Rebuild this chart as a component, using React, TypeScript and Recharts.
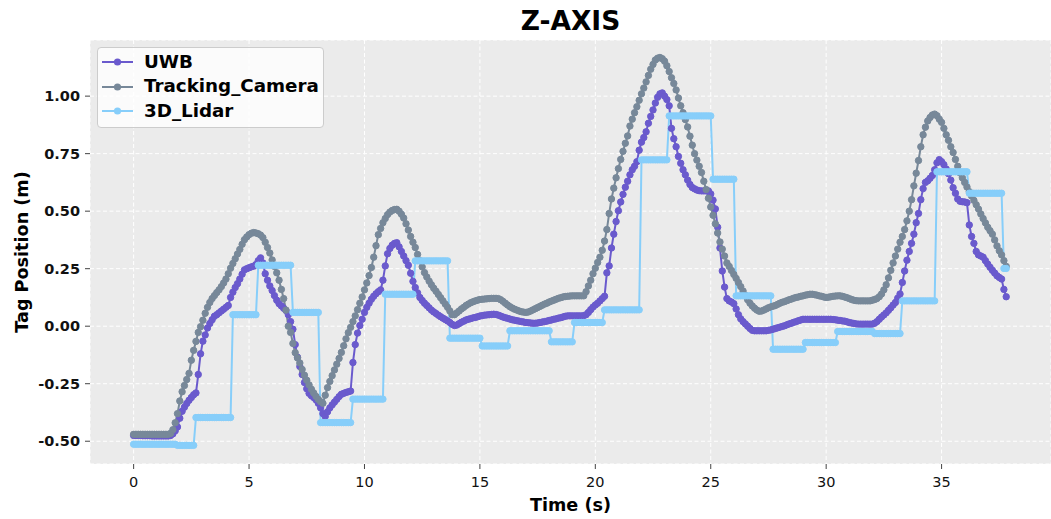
import { LineChart, Line, XAxis, YAxis, CartesianGrid } from "recharts";

const FONT = "'DejaVu Sans', sans-serif";

// samples are logged every 0.1 s, starting at t = 0 (one row = 2 s)
const SAMPLE_PERIOD = 0.1;

const uwb = [
  -0.475, -0.475, -0.475, -0.475, -0.476, -0.476, -0.476, -0.476, -0.477, -0.477, -0.477, -0.477, -0.477, -0.477, -0.477, -0.477, -0.475, -0.468, -0.455, -0.438,
  -0.400, -0.370, -0.352, -0.336, -0.322, -0.310, -0.298, -0.290, -0.210, -0.120, -0.065, -0.038, -0.008, 0.012, 0.028, 0.043, 0.050, 0.058, 0.066, 0.074,
  0.082, 0.090, 0.125, 0.148, 0.168, 0.185, 0.205, 0.226, 0.245, 0.250, 0.254, 0.258, 0.261, 0.268, 0.285, 0.297, 0.275, 0.228, 0.200, 0.175,
  0.155, 0.133, 0.113, 0.098, 0.088, 0.078, 0.068, 0.050, 0.020, -0.013, -0.080, -0.135, -0.175, -0.210, -0.245, -0.272, -0.292, -0.302, -0.310, -0.320,
  -0.335, -0.355, -0.380, -0.392, -0.372, -0.355, -0.342, -0.330, -0.318, -0.306, -0.296, -0.292, -0.288, -0.285, -0.282, -0.158, -0.080, -0.030, 0.003, 0.030,
  0.060, 0.082, 0.100, 0.117, 0.130, 0.141, 0.150, 0.158, 0.200, 0.262, 0.315, 0.338, 0.352, 0.360, 0.363, 0.345, 0.325, 0.305, 0.285, 0.265,
  0.230, 0.195, 0.168, 0.145, 0.125, 0.112, 0.100, 0.090, 0.080, 0.070, 0.062, 0.055, 0.048, 0.041, 0.035, 0.029, 0.023, 0.016, 0.008, 0.003,
  0.005, 0.011, 0.017, 0.022, 0.027, 0.030, 0.033, 0.036, 0.038, 0.041, 0.044, 0.046, 0.048, 0.049, 0.050, 0.051, 0.052, 0.051, 0.048, 0.044,
  0.040, 0.037, 0.034, 0.031, 0.028, 0.026, 0.024, 0.022, 0.020, 0.018, 0.016, 0.015, 0.014, 0.013, 0.013, 0.014, 0.016, 0.018, 0.020, 0.022,
  0.025, 0.027, 0.030, 0.032, 0.035, 0.037, 0.040, 0.043, 0.045, 0.045, 0.045, 0.045, 0.045, 0.045, 0.045, 0.046, 0.050, 0.060, 0.072, 0.083,
  0.092, 0.100, 0.110, 0.120, 0.130, 0.232, 0.262, 0.340, 0.400, 0.455, 0.502, 0.540, 0.573, 0.604, 0.630, 0.658, 0.680, 0.695, 0.715, 0.765,
  0.800, 0.820, 0.845, 0.882, 0.912, 0.940, 0.970, 0.995, 1.010, 1.014, 1.000, 0.985, 0.958, 0.860, 0.815, 0.780, 0.738, 0.708, 0.680, 0.658,
  0.635, 0.616, 0.603, 0.597, 0.592, 0.589, 0.588, 0.588, 0.588, 0.588, 0.575, 0.548, 0.510, 0.430, 0.340, 0.240, 0.170, 0.120, 0.110, 0.105,
  0.098, 0.075, 0.050, 0.032, 0.020, 0.010, 0.000, -0.010, -0.018, -0.020, -0.020, -0.020, -0.020, -0.020, -0.020, -0.018, -0.016, -0.013, -0.010, -0.007,
  -0.004, -0.001, 0.002, 0.006, 0.010, 0.013, 0.017, 0.020, 0.024, 0.027, 0.030, 0.030, 0.030, 0.030, 0.030, 0.030, 0.030, 0.030, 0.030, 0.030,
  0.030, 0.030, 0.030, 0.029, 0.028, 0.026, 0.025, 0.023, 0.022, 0.019, 0.016, 0.014, 0.012, 0.010, 0.009, 0.009, 0.009, 0.009, 0.009, 0.009,
  0.009, 0.013, 0.020, 0.030, 0.040, 0.049, 0.058, 0.069, 0.080, 0.092, 0.103, 0.122, 0.140, 0.190, 0.240, 0.287, 0.325, 0.360, 0.400, 0.450,
  0.490, 0.550, 0.598, 0.625, 0.632, 0.643, 0.655, 0.680, 0.710, 0.724, 0.715, 0.702, 0.683, 0.663, 0.635, 0.602, 0.578, 0.553, 0.543, 0.541,
  0.540, 0.537, 0.440, 0.390, 0.360, 0.325, 0.310, 0.305, 0.300, 0.285, 0.270, 0.256, 0.243, 0.231, 0.219, 0.212, 0.205, 0.160, 0.128,
];

const trackingCamera = [
  -0.470, -0.470, -0.470, -0.470, -0.470, -0.470, -0.470, -0.470, -0.470, -0.470, -0.470, -0.470, -0.470, -0.470, -0.470, -0.470, -0.466, -0.450, -0.420, -0.380,
  -0.325, -0.285, -0.258, -0.232, -0.205, -0.148, -0.105, -0.066, -0.027, -0.002, 0.026, 0.056, 0.082, 0.103, 0.120, 0.133, 0.146, 0.158, 0.172, 0.188,
  0.205, 0.228, 0.252, 0.273, 0.293, 0.314, 0.334, 0.356, 0.376, 0.388, 0.398, 0.404, 0.407, 0.405, 0.402, 0.396, 0.385, 0.365, 0.342, 0.318,
  0.288, 0.260, 0.232, 0.200, 0.160, 0.120, 0.070, 0.000, -0.027, -0.075, -0.115, -0.138, -0.160, -0.188, -0.213, -0.235, -0.255, -0.274, -0.290, -0.305,
  -0.318, -0.328, -0.335, -0.300, -0.267, -0.240, -0.215, -0.190, -0.165, -0.140, -0.114, -0.085, -0.055, -0.028, -0.005, 0.020, 0.045, 0.072, 0.100, 0.127,
  0.158, 0.188, 0.220, 0.255, 0.300, 0.350, 0.398, 0.425, 0.450, 0.468, 0.485, 0.496, 0.503, 0.507, 0.508, 0.500, 0.487, 0.470, 0.445, 0.418,
  0.390, 0.365, 0.342, 0.312, 0.285, 0.258, 0.233, 0.214, 0.196, 0.180, 0.165, 0.152, 0.138, 0.124, 0.110, 0.096, 0.082, 0.066, 0.050, 0.050,
  0.058, 0.066, 0.075, 0.082, 0.090, 0.096, 0.102, 0.106, 0.110, 0.113, 0.116, 0.117, 0.118, 0.119, 0.120, 0.121, 0.121, 0.121, 0.120, 0.115,
  0.108, 0.100, 0.092, 0.085, 0.079, 0.074, 0.070, 0.066, 0.063, 0.061, 0.060, 0.062, 0.066, 0.071, 0.076, 0.081, 0.086, 0.091, 0.096, 0.100,
  0.105, 0.109, 0.113, 0.117, 0.121, 0.124, 0.127, 0.129, 0.130, 0.131, 0.132, 0.132, 0.132, 0.132, 0.132, 0.132, 0.150, 0.175, 0.200, 0.228,
  0.252, 0.277, 0.300, 0.330, 0.370, 0.420, 0.490, 0.553, 0.600, 0.645, 0.685, 0.725, 0.760, 0.795, 0.827, 0.870, 0.900, 0.928, 0.954, 0.982,
  1.010, 1.035, 1.062, 1.090, 1.117, 1.138, 1.157, 1.165, 1.168, 1.163, 1.152, 1.132, 1.107, 1.080, 1.055, 1.027, 0.992, 0.958, 0.928, 0.898,
  0.866, 0.826, 0.787, 0.750, 0.722, 0.695, 0.668, 0.630, 0.594, 0.556, 0.518, 0.482, 0.445, 0.405, 0.366, 0.335, 0.305, 0.275, 0.260, 0.242,
  0.225, 0.208, 0.190, 0.172, 0.153, 0.134, 0.115, 0.100, 0.088, 0.078, 0.070, 0.065, 0.066, 0.070, 0.075, 0.080, 0.084, 0.087, 0.090, 0.095,
  0.100, 0.104, 0.107, 0.111, 0.115, 0.118, 0.122, 0.125, 0.127, 0.130, 0.132, 0.135, 0.137, 0.139, 0.139, 0.137, 0.135, 0.132, 0.130, 0.127,
  0.125, 0.126, 0.128, 0.130, 0.131, 0.132, 0.132, 0.130, 0.127, 0.124, 0.120, 0.116, 0.113, 0.111, 0.110, 0.110, 0.110, 0.110, 0.110, 0.110,
  0.113, 0.116, 0.120, 0.128, 0.140, 0.158, 0.180, 0.210, 0.243, 0.275, 0.305, 0.335, 0.365, 0.390, 0.420, 0.458, 0.500, 0.550, 0.610, 0.665,
  0.720, 0.780, 0.832, 0.865, 0.892, 0.907, 0.918, 0.922, 0.915, 0.900, 0.886, 0.860, 0.832, 0.808, 0.780, 0.755, 0.725, 0.695, 0.666, 0.645,
  0.625, 0.605, 0.585, 0.566, 0.547, 0.528, 0.509, 0.488, 0.468, 0.449, 0.430, 0.415, 0.400, 0.375, 0.349, 0.328, 0.310, 0.285, 0.260,
];

const lidar3d = [
  -0.513, -0.513, -0.513, -0.513, -0.513, -0.513, -0.513, -0.513, -0.513, -0.513, -0.513, -0.513, -0.513, -0.513, -0.513, -0.513, -0.513, -0.513, -0.513, -0.518,
  -0.518, -0.518, -0.518, -0.518, -0.518, -0.518, -0.518, -0.397, -0.397, -0.397, -0.397, -0.397, -0.397, -0.397, -0.397, -0.397, -0.397, -0.397, -0.397, -0.397,
  -0.397, -0.397, -0.397, 0.050, 0.050, 0.050, 0.050, 0.050, 0.050, 0.050, 0.050, 0.050, 0.050, 0.050, 0.265, 0.265, 0.265, 0.265, 0.265, 0.265,
  0.265, 0.265, 0.265, 0.265, 0.265, 0.265, 0.265, 0.265, 0.265, 0.060, 0.060, 0.060, 0.060, 0.060, 0.060, 0.060, 0.060, 0.060, 0.060, 0.060,
  0.060, -0.419, -0.419, -0.419, -0.419, -0.419, -0.419, -0.419, -0.419, -0.419, -0.419, -0.419, -0.419, -0.419, -0.419, -0.317, -0.317, -0.317, -0.317, -0.317,
  -0.317, -0.317, -0.317, -0.317, -0.317, -0.317, -0.317, -0.317, -0.317, 0.139, 0.139, 0.139, 0.139, 0.139, 0.139, 0.139, 0.139, 0.139, 0.139, 0.139,
  0.139, 0.139, 0.284, 0.284, 0.284, 0.284, 0.284, 0.284, 0.284, 0.284, 0.284, 0.284, 0.284, 0.284, 0.284, 0.284, 0.284, -0.052, -0.052, -0.052,
  -0.052, -0.052, -0.052, -0.052, -0.052, -0.052, -0.052, -0.052, -0.052, -0.052, -0.052, -0.086, -0.086, -0.086, -0.086, -0.086, -0.086, -0.086, -0.086, -0.086,
  -0.086, -0.086, -0.086, -0.020, -0.020, -0.020, -0.020, -0.020, -0.020, -0.020, -0.020, -0.020, -0.020, -0.020, -0.020, -0.020, -0.020, -0.020, -0.020, -0.020,
  -0.020, -0.068, -0.068, -0.068, -0.068, -0.068, -0.068, -0.068, -0.068, -0.068, -0.068, 0.016, 0.016, 0.016, 0.016, 0.016, 0.016, 0.016, 0.016, 0.016,
  0.016, 0.016, 0.016, 0.016, 0.071, 0.071, 0.071, 0.071, 0.071, 0.071, 0.071, 0.071, 0.071, 0.071, 0.071, 0.071, 0.071, 0.071, 0.071, 0.071,
  0.723, 0.723, 0.723, 0.723, 0.723, 0.723, 0.723, 0.723, 0.723, 0.723, 0.723, 0.723, 0.914, 0.914, 0.914, 0.914, 0.914, 0.914, 0.914, 0.914,
  0.914, 0.914, 0.914, 0.914, 0.914, 0.914, 0.914, 0.914, 0.914, 0.914, 0.914, 0.639, 0.639, 0.639, 0.639, 0.639, 0.639, 0.639, 0.639, 0.639,
  0.639, 0.132, 0.132, 0.132, 0.132, 0.132, 0.132, 0.132, 0.132, 0.132, 0.132, 0.132, 0.132, 0.132, 0.132, 0.132, 0.132, -0.100, -0.100, -0.100,
  -0.100, -0.100, -0.100, -0.100, -0.100, -0.100, -0.100, -0.100, -0.100, -0.100, -0.100, -0.071, -0.071, -0.071, -0.071, -0.071, -0.071, -0.071, -0.071, -0.071,
  -0.071, -0.071, -0.071, -0.071, -0.071, -0.023, -0.023, -0.023, -0.023, -0.023, -0.023, -0.023, -0.023, -0.023, -0.023, -0.023, -0.023, -0.023, -0.023, -0.023,
  -0.023, -0.032, -0.032, -0.032, -0.032, -0.032, -0.032, -0.032, -0.032, -0.032, -0.032, -0.032, -0.032, 0.110, 0.110, 0.110, 0.110, 0.110, 0.110, 0.110,
  0.110, 0.110, 0.110, 0.110, 0.110, 0.110, 0.110, 0.110, 0.671, 0.671, 0.671, 0.671, 0.671, 0.671, 0.671, 0.671, 0.671, 0.671, 0.671, 0.671,
  0.671, 0.671, 0.578, 0.578, 0.578, 0.578, 0.578, 0.578, 0.578, 0.578, 0.578, 0.578, 0.578, 0.578, 0.578, 0.578, 0.578, 0.251, 0.251,
];

const timeTicks = [0, 5, 10, 15, 20, 25, 30, 35];
const positionTicks = [-0.5, -0.25, 0, 0.25, 0.5, 0.75, 1.0];

const series = [
  { key: "UWB", color: "#6A5ACD", values: uwb },
  { key: "Tracking_Camera", color: "#778899", values: trackingCamera },
  { key: "3D_Lidar", color: "#87CEFA", values: lidar3d },
];

const data = uwb.map((_, i) => {
  const row: Record<string, number> = { time: Math.round(i * SAMPLE_PERIOD * 10) / 10 };
  series.forEach((s) => {
    row[s.key] = s.values[i];
  });
  return row;
});

function LegendBox() {
  return (
    <div
      style={{
        position: "absolute",
        left: 97,
        top: 47,
        width: 227,
        height: 81,
        boxSizing: "border-box",
        background: "rgba(255,255,255,0.8)",
        border: "1px solid #cccccc",
        borderRadius: 4,
        paddingTop: 1.5,
      }}
    >
      {series.map((s) => (
        <div key={s.key} style={{ display: "flex", alignItems: "center", height: 24.7 }}>
          <svg width={31} height={10} style={{ marginLeft: 4, flex: "none" }}>
            <line x1={0} y1={5} x2={31} y2={5} stroke={s.color} strokeWidth={2} />
            <circle cx={15.5} cy={5} r={3.6} fill={s.color} />
          </svg>
          <span style={{ marginLeft: 11, fontSize: 18.3, fontWeight: "bold", color: "#000", lineHeight: 1 }}>
            {s.key}
          </span>
        </div>
      ))}
    </div>
  );
}

export default function App() {
  return (
    <div
      style={{
        position: "absolute",
        left: 0,
        top: 0,
        width: 1051,
        height: 519,
        background: "#ffffff",
        fontFamily: FONT,
      }}
    >
      <div
        style={{
          position: "absolute",
          left: 90,
          width: 961,
          top: 8,
          textAlign: "center",
          fontSize: 26.5,
          fontWeight: "bold",
          lineHeight: 1,
          color: "#000",
        }}
      >
        Z-AXIS
      </div>
      <LineChart width={1051} height={519} data={data} margin={{ top: 40, right: 0, bottom: 0, left: 0 }}>
        <CartesianGrid fill="#EBEBEB" fillOpacity={1} stroke="#FFFFFF" strokeDasharray="4 2.5" strokeWidth={1} />
        <XAxis
          dataKey="time"
          type="number"
          domain={[-1.89, 39.74]}
          ticks={timeTicks}
          allowDataOverflow
          height={55}
          axisLine={false}
          tickLine={{ stroke: "#444" }}
          tickSize={5}
          tickMargin={8}
          tick={{ fill: "#111", fontSize: 14.5, fontFamily: FONT }}
          label={{
            value: "Time (s)",
            position: "insideBottom",
            offset: 8,
            fill: "#000",
            fontSize: 17.6,
            fontWeight: "bold",
            fontFamily: FONT,
          }}
        />
        <YAxis
          type="number"
          domain={[-0.599, 1.244]}
          ticks={positionTicks}
          allowDataOverflow
          width={90}
          axisLine={false}
          tickLine={{ stroke: "#444" }}
          tickSize={5}
          tickMargin={5}
          tickFormatter={(v: number) => v.toFixed(2)}
          tick={{ fill: "#111", fontSize: 14.5, fontWeight: "bold", fontFamily: FONT }}
          label={{
            value: "Tag Position (m)",
            angle: -90,
            position: "insideLeft",
            offset: 22,
            fill: "#000",
            fontSize: 17.6,
            fontWeight: "bold",
            fontFamily: FONT,
            style: { textAnchor: "middle" },
          }}
        />
        {series.map((s) => (
          <Line
            key={s.key}
            type="linear"
            dataKey={s.key}
            stroke={s.color}
            strokeWidth={2}
            dot={{ r: 3.2, fill: s.color, stroke: s.color, strokeWidth: 1 }}
            activeDot={false}
            isAnimationActive={false}
          />
        ))}
      </LineChart>
      <LegendBox />
    </div>
  );
}
